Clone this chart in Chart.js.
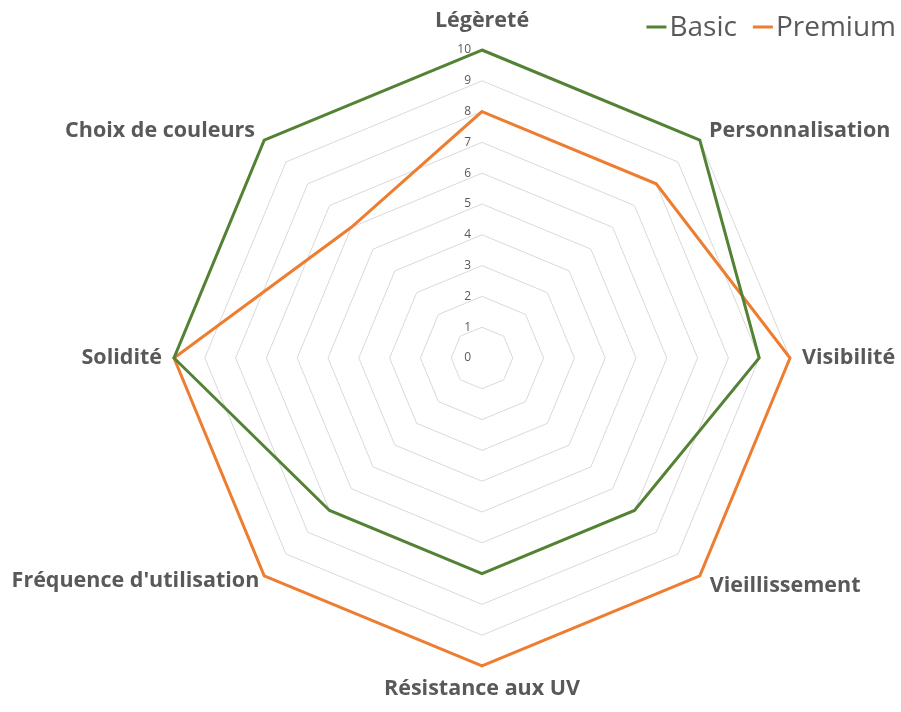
<!DOCTYPE html>
<html>
<head>
<meta charset="utf-8">
<script src="https://cdn.jsdelivr.net/npm/chart.js@4"></script>
<style>
  html, body { margin: 0; padding: 0; background: #fff; overflow: hidden; }
  #wrap { width: 901px; height: 712px; }
</style>
</head>
<body>
<div id="wrap"><canvas id="myChart" width="901" height="712"></canvas></div>
<script>
var categories = ["Légèreté", "Personnalisation", "Visibilité", "Vieillissement",
  "Résistance aux UV", "Fréquence d'utilisation", "Solidité", "Choix de couleurs"];
var basicValues = [10, 10, 9, 7, 7, 7, 10, 10];
var premiumValues = [8, 8, 10, 10, 10, 10, 10, 6];
var tickValues = [0, 1, 2, 3, 4, 5, 6, 7, 8, 9, 10];

var textColor = "#595959";

// label placement per axis (Excel keeps diagonal labels level with the vertex)
var labelPadding = [16, 13, 12, 14, 10, 7, 12, 13];
var labelLineHeight = [1.2, 0.01, 1.2, 0.01, 1.2, 0.01, 1.2, 0.01];

// tick labels drawn just left of the vertical axis, like Excel
var tickLabelPlugin = {
  id: "tickLabels",
  afterDatasetsDraw: function (chart) {
    var scale = chart.scales.r;
    var ctx = chart.ctx;
    ctx.save();
    ctx.font = "12px 'Open Sans'";
    ctx.fillStyle = textColor;
    ctx.textAlign = "right";
    ctx.textBaseline = "middle";
    tickValues.forEach(function (v) {
      var d = scale.getDistanceFromCenterForValue(v);
      ctx.fillText(String(v), scale.xCenter - 11, scale.yCenter - d);
    });
    ctx.restore();
  }
};

// legend in the top right corner, overlapping the plot like the original
var cornerLegend = {
  id: "cornerLegend",
  afterDraw: function (chart) {
    var ctx = chart.ctx;
    var sets = chart.data.datasets;
    ctx.save();
    ctx.font = "28px 'Open Sans'";
    ctx.textBaseline = "middle";
    ctx.textAlign = "left";
    var y = 28;
    var widths = sets.map(function (ds) { return 20 + 3 + ctx.measureText(ds.label).width; });
    var total = widths.reduce(function (a, b) { return a + b; }, 0) + 16 * (sets.length - 1);
    var x = 896 - total;
    sets.forEach(function (ds, i) {
      ctx.strokeStyle = ds.borderColor;
      ctx.lineWidth = 3;
      ctx.beginPath();
      ctx.moveTo(x, 27);
      ctx.lineTo(x + 20, 27);
      ctx.stroke();
      ctx.fillStyle = textColor;
      ctx.fillText(ds.label, x + 23, y);
      x += widths[i] + 16;
    });
    ctx.restore();
  }
};

new Chart("myChart", {
  type: "radar",
  data: {
    labels: categories,
    datasets: [
      {
        label: "Basic",
        data: basicValues,
        borderColor: "#548235",
        backgroundColor: "#548235",
        borderWidth: 3,
        pointRadius: 0,
        fill: false
      },
      {
        label: "Premium",
        data: premiumValues,
        borderColor: "#ED7D31",
        backgroundColor: "#ED7D31",
        borderWidth: 3,
        pointRadius: 0,
        fill: false
      }
    ]
  },
  options: {
    responsive: false,
    animation: false,
    plugins: {
      legend: { display: false },
      tooltip: { enabled: false }
    },
    scales: {
      r: {
        min: 0,
        max: 10,
        // fix the plot geometry so label fitting does not shrink it
        afterSetDimensions: function (scale) {
          scale.xCenter = 482;
          scale.yCenter = 358;
          scale.drawingArea = 308;
          scale.left = -1000;
          scale.right = 2000;
          scale.top = -1000;
          scale.bottom = 2000;
        },
        ticks: { stepSize: 1, display: false },
        angleLines: { display: false },
        grid: { color: "#d9d9d9", lineWidth: 1 },
        pointLabels: {
          color: textColor,
          padding: function (ctx) { return labelPadding[ctx.index]; },
          font: function (ctx) {
            return { family: "'Open Sans'", size: 21.5, weight: "bold", lineHeight: labelLineHeight[ctx.index] };
          }
        }
      }
    }
  },
  plugins: [tickLabelPlugin, cornerLegend]
});
</script>
</body>
</html>
